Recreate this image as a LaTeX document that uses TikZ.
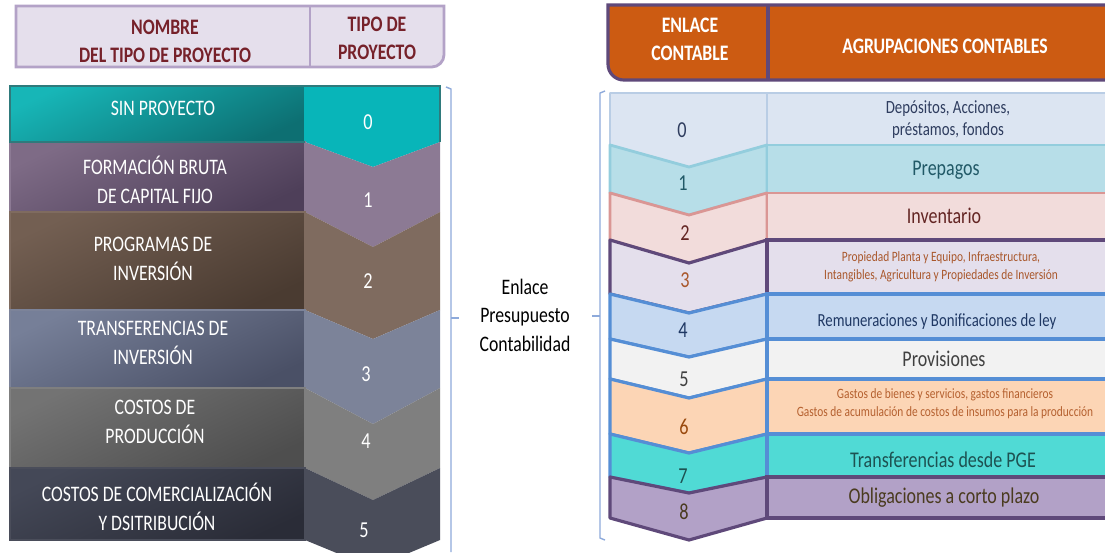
\documentclass[tikz,border=0pt]{standalone}
\usepackage{fontspec}
\setmainfont{Carlito}[FakeStretch=0.8]
\definecolor{lilahead}{HTML}{E5DFEC}
\definecolor{lilaline}{HTML}{B3A2C7}
\definecolor{headred}{HTML}{76212A}
\definecolor{orangehead}{HTML}{CC5B12}
\definecolor{rheadline}{HTML}{5F497A}
\definecolor{braceblue}{HTML}{8EAADB}
\definecolor{tealframe}{HTML}{2F7A7C}
% left rows
\definecolor{lchev0}{HTML}{08B5B9}\definecolor{ltop0}{HTML}{17B6B7}\definecolor{lbot0}{HTML}{0D6F72}
\definecolor{lchev1}{HTML}{8C7A94}\definecolor{ltop1}{HTML}{7E6B86}\definecolor{lbot1}{HTML}{4E3F59}
\definecolor{lchev2}{HTML}{7F6B5F}\definecolor{ltop2}{HTML}{735F52}\definecolor{lbot2}{HTML}{4A3B31}
\definecolor{lchev3}{HTML}{7C8399}\definecolor{ltop3}{HTML}{767F98}\definecolor{lbot3}{HTML}{4A5066}
\definecolor{lchev4}{HTML}{7F7F7F}\definecolor{ltop4}{HTML}{737373}\definecolor{lbot4}{HTML}{4E4E4E}
\definecolor{lchev5}{HTML}{4A4D5A}\definecolor{ltop5}{HTML}{444857}\definecolor{lbot5}{HTML}{2A2C37}
% right rows
\definecolor{rfill0}{HTML}{DCE5F2}\definecolor{rline0}{HTML}{B9CDE5}\definecolor{rtxt0}{HTML}{2F3D5F}
\definecolor{rfill1}{HTML}{B7DEE8}\definecolor{rline1}{HTML}{93CDDD}\definecolor{rtxt1}{HTML}{215967}
\definecolor{rfill2}{HTML}{F2DCDB}\definecolor{rline2}{HTML}{DA9694}\definecolor{rtxt2}{HTML}{632523}
\definecolor{rfill3}{HTML}{E4DFEC}\definecolor{rline3}{HTML}{5F497A}\definecolor{rtxt3}{HTML}{A9572B}
\definecolor{rfill4}{HTML}{C6D9F1}\definecolor{rline4}{HTML}{558ED5}\definecolor{rtxt4}{HTML}{1F3864}
\definecolor{rfill5}{HTML}{F2F2F2}\definecolor{rline5}{HTML}{558ED5}\definecolor{rtxt5}{HTML}{404040}
\definecolor{rfill6}{HTML}{FCD5B5}\definecolor{rline6}{HTML}{558ED5}\definecolor{rtxt6}{HTML}{B5602F}
\definecolor{rfill7}{HTML}{50DAD5}\definecolor{rline7}{HTML}{558ED5}\definecolor{rtxt7}{HTML}{1D5252}
\definecolor{rfill8}{HTML}{B2A1C7}\definecolor{rline8}{HTML}{5F497A}\definecolor{rtxt8}{HTML}{4A3B1F}
\definecolor{rnum6}{HTML}{9A4A0E}
\begin{document}
\begin{tikzpicture}[x=0.02cm, y=-0.02cm,
  head/.style={font=\fontsize{12.6}{16}\selectfont\bfseries, align=center},
  fila/.style={font=\fontsize{12.6}{16.8}\selectfont, text=white, align=center},
  num/.style={font=\fontsize{13}{15}\selectfont},
  agr/.style={font=\fontsize{12.8}{15}\selectfont, align=center},
  chica/.style={font=\fontsize{8.1}{10.2}\selectfont, align=center},
  llave/.style={draw=braceblue, line width=0.8pt, line join=round}]
\clip (0,0) rectangle (1105,552);
\fill[white] (0,0) rectangle (1105,552);

% left header
\filldraw[fill=lilahead, draw=lilaline, line width=1.6pt] (16,6) -- (444,6) [rounded corners=7pt] -- (444,67) [sharp corners] -- (16,67) -- cycle;
\draw[lilaline, line width=1.6pt] (310,6) -- (310,67);
\node[head, text=headred] (nomhead) at (165,41) {NOMBRE\\DEL TIPO DE PROYECTO};
\node[head, text=headred] (tiphead) at (377,38) {TIPO DE\\PROYECTO};

% left rows: chevron, then shaded box
\foreach \i/\t/\b/\q/\p in {0/86/142/86/167, 1/142/212/167/247, 2/212/310/247/339,
    3/310/388/339/424, 4/388/468/424/500, 5/468/540/500/568} {
  \fill[lchev\i] (305,\t) -- (373,\q) -- (440,\t) -- (440,\b) -- (373,\p) -- (305,\b) -- cycle;
  \shade[top color=ltop\i, bottom color=lbot\i, shading angle=25] (10,\t) rectangle (305,\b);
  \draw[lchev\i, line width=1.2pt] (10,\t) rectangle (305,\b);
}
\draw[tealframe, line width=1.6pt] (305,142) -- (10,142) -- (10,86) -- (440,86) -- (440,142);

\node[fila] (nom0) at (163,108) {SIN PROYECTO};
\node[fila] (nom1) at (155,180) {FORMACIÓN BRUTA\\DE CAPITAL FIJO};
\node[fila] (nom2) at (153,259) {PROGRAMAS DE\\INVERSIÓN};
\node[fila] (nom3) at (153,343) {TRANSFERENCIAS DE\\INVERSIÓN};
\node[fila] (nom4) at (155,422) {COSTOS DE\\PRODUCCIÓN};
\node[fila] (nom5) at (157,507) {COSTOS DE COMERCIALIZACIÓN\\Y DSITRIBUCIÓN};
\node[num, text=white] (tip0) at (368,122) {0};
\node[num, text=white] (tip1) at (368,200) {1};
\node[num, text=white] (tip2) at (368,281) {2};
\node[num, text=white] (tip3) at (366,374) {3};
\node[num, text=white] (tip4) at (366,441) {4};
\node[num, text=white] (tip5) at (364,530) {5};

% brackets and middle label
\draw[llave] (446,87) -- (451,89) -- (451,552);
\draw[llave] (451,318) -- (459,318);
\node[font=\fontsize{12.6}{16.2}\selectfont, align=center] (enlace) at (525,315) {Enlace\\Presupuesto\\Contabilidad};
\draw[llave] (605,91) -- (600,93) -- (600,538) -- (605,540);
\draw[llave] (600,316) -- (592,316);

% right header
\filldraw[fill=orangehead, draw=rheadline, line width=1.8pt] (1110,5) -- (608,5) [rounded corners=9pt] -- (608,80) [sharp corners] -- (1110,80) -- cycle;
\draw[rheadline, line width=1.8pt] (768,5) -- (768,80);
\node[head, text=white] (enlhead) at (690,39) {ENLACE\\CONTABLE};
\node[head, text=white] (agrhead) at (945,46) {AGRUPACIONES CONTABLES};

% right rows
\foreach \i/\t/\b/\q/\p/\w in {0/93/145/93/167/1.1, 1/145/193/167/215/1.6, 2/193/240/215/263/1.6,
    3/240/294/263/313/1.8, 4/294/339/313/357/1.8, 5/339/379/357/398/1.8, 6/379/434/398/453/1.8,
    7/434/477/453/493/1.8, 8/477/518/493/540/1.8} {
  \filldraw[fill=rfill\i, draw=rline\i, line width=\w pt, line join=round] (610,\t) -- (689,\q) -- (767,\t) -- (767,\b) -- (689,\p) -- (610,\b) -- cycle;
  \filldraw[fill=rfill\i, draw=rline\i, line width=\w pt] (767,\t) rectangle (1110,\b);
}

\node[num, text=rtxt0] (enl0) at (682,130) {0};
\node[num, text=rtxt1] (enl1) at (683,183) {1};
\node[num, text=rtxt2] (enl2) at (685,233) {2};
\node[num, text=rtxt3] (enl3) at (685,280) {3};
\node[num, text=rtxt4] (enl4) at (683,330) {4};
\node[num, text=rtxt5] (enl5) at (684,379) {5};
\node[num, text=rnum6] (enl6) at (684,427) {6};
\node[num, text=rtxt7] (enl7) at (683,476) {7};
\node[num, text=rtxt8] (enl8) at (684,512) {8};

\node[font=\fontsize{10.6}{12.5}\selectfont, align=center, text=rtxt0] (agr0) at (948,120) {Depósitos, Acciones,\\préstamos, fondos};
\node[agr, text=rtxt1] (agr1) at (946,170) {Prepagos};
\node[agr, text=rtxt2] (agr2) at (944,216) {Inventario};
\node[chica, text=rtxt3] (agr3) at (941,267) {Propiedad Planta y Equipo, Infraestructura,\\Intangibles, Agricultura y Propiedades de Inversión};
\node[font=\fontsize{10.5}{12}\selectfont, text=rtxt4] (agr4) at (937,322) {Remuneraciones y Bonificaciones de ley};
\node[agr, text=rtxt5] (agr5) at (944,359) {Provisiones};
\node[chica, text=rtxt6] (agr6) at (945,404) {Gastos de bienes y servicios, gastos financieros\\Gastos de acumulación de costos de insumos para la producción};
\node[agr, text=rtxt7] (agr7) at (943,460) {Transferencias desde PGE};
\node[agr, text=rtxt8] (agr8) at (944,498) {Obligaciones a corto plazo};
\end{tikzpicture}
\end{document}
